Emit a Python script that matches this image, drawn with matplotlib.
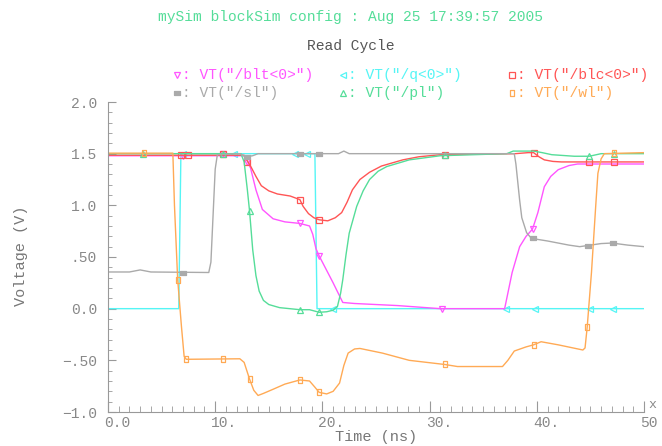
import numpy as np
import matplotlib.pyplot as plt
from matplotlib.lines import Line2D
from matplotlib.path import Path
import matplotlib.transforms as mtransforms

# waveforms, time in ns, voltage in V
blt_t = [0, 12.7, 13.0, 13.3, 13.8, 14.4, 15.4, 16.5, 17.9, 18.8, 19.1, 19.4, 19.7, 21.0, 21.9,
         23.0, 27.0, 31.0, 37.0, 37.3, 37.7, 38.4, 39.0, 39.6, 40.1, 40.7, 41.3, 42.0, 43.0, 43.8, 50]
blt_v = [1.48, 1.48, 1.43, 1.36, 1.15, 0.96, 0.87, 0.84, 0.825, 0.80, 0.72, 0.58, 0.51, 0.25, 0.06,
         0.05, 0.03, 0.0, 0.0, 0.15, 0.35, 0.60, 0.70, 0.77, 0.93, 1.18, 1.28, 1.345, 1.385, 1.40, 1.40]

q_t = [0, 6.6, 6.8, 19.3, 19.5, 50]
q_v = [0.0, 0.0, 1.5, 1.5, 0.0, 0.0]

blc_t = [0, 12.7, 13.0, 13.3, 13.8, 14.3, 15.0, 15.8, 17.0, 17.9, 18.2, 18.7, 19.2, 19.7, 20.5,
         21.2, 21.8, 22.3, 22.8, 23.5, 24.4, 25.5, 27.5, 29.0, 31.0, 38.0, 39.2, 39.7, 40.2, 40.7,
         41.5, 42.3, 50]
blc_v = [1.485, 1.485, 1.43, 1.38, 1.28, 1.19, 1.14, 1.11, 1.09, 1.055, 0.99, 0.92, 0.88, 0.86, 0.85,
         0.88, 0.93, 1.03, 1.15, 1.25, 1.32, 1.38, 1.44, 1.47, 1.49, 1.5, 1.51, 1.51, 1.47, 1.44,
         1.425, 1.42, 1.42]

sl_t = [0, 2.0, 3.0, 4.0, 9.4, 9.6, 9.8, 10.0, 10.2, 12.3, 12.8, 13.5, 14.0, 21.5, 22.0, 22.5,
        37.9, 38.05, 38.2, 38.4, 38.6, 39.05, 39.5, 41.0, 43.0, 44.0, 45.0, 46.0, 47.0, 48.5, 50]
sl_v = [0.355, 0.355, 0.375, 0.355, 0.35, 0.45, 0.9, 1.35, 1.49, 1.5, 1.47, 1.48, 1.5, 1.5, 1.525, 1.5,
        1.5, 1.40, 1.25, 1.05, 0.88, 0.735, 0.68, 0.655, 0.615, 0.60, 0.615, 0.63, 0.635, 0.615, 0.60]

pl_t = [0, 12.4, 12.7, 13.0, 13.2, 13.5, 13.8, 14.1, 14.5, 15.0, 16.0, 17.9, 18.8, 19.7, 20.4,
        21.0, 21.4, 21.7, 21.9, 22.2, 22.5, 23.2, 23.8, 24.4, 25.2, 26.0, 28.1, 31.0, 37.2, 37.8,
        39.7, 40.5, 41.4, 43.5, 44.9, 46.0, 50]
pl_v = [1.5, 1.5, 1.42, 1.15, 0.95, 0.57, 0.32, 0.17, 0.08, 0.04, 0.01, -0.01, -0.01, -0.035, -0.03,
        -0.015, 0.02, 0.15, 0.28, 0.52, 0.73, 0.99, 1.14, 1.25, 1.33, 1.375, 1.44, 1.48, 1.5, 1.525,
        1.525, 1.51, 1.49, 1.475, 1.475, 1.5, 1.5]

wl_t = [0, 6.05, 6.2, 6.5, 6.85, 7.1, 7.3, 12.3, 12.7, 13.2, 13.6, 14.0, 14.5, 15.4, 16.5, 17.9,
        18.8, 19.3, 19.7, 20.4, 21.0, 21.6, 22.0, 22.4, 23.0, 23.5, 25.6, 28.1, 31.4, 32.6, 36.8,
        37.3, 37.9, 39.0, 39.7, 40.4, 42.0, 44.3, 44.5, 44.7, 45.1, 45.5, 45.7, 46.0, 46.3, 50]
wl_v = [1.505, 1.505, 1.0, 0.28, -0.17, -0.46, -0.49, -0.485, -0.52, -0.68, -0.79, -0.84, -0.82, -0.78,
        -0.73, -0.69, -0.70, -0.76, -0.81, -0.825, -0.80, -0.72, -0.55, -0.43, -0.39, -0.385, -0.43,
        -0.50, -0.54, -0.56, -0.56, -0.50, -0.41, -0.37, -0.35, -0.32, -0.35, -0.40, -0.38, -0.18,
        0.35, 1.0, 1.31, 1.45, 1.5, 1.51]

# marker positions
blt_mt = [7.0, 10.7, 13.0, 17.9, 19.7, 31.2, 39.6]
blt_mv = [1.48, 1.5, 1.42, 0.825, 0.51, 0.0, 0.77]
q_mt = [7.0, 11.8, 17.4, 18.6, 21.0, 37.1, 39.8, 45.0, 47.1]
q_mv = [1.5, 1.5, 1.5, 1.5, 0.0, 0.0, 0.0, 0.0, 0.0]
blc_mt = [6.8, 7.5, 10.7, 13.0, 17.9, 19.7, 31.4, 39.7, 44.9, 47.2]
blc_mv = [1.485, 1.485, 1.5, 1.42, 1.055, 0.86, 1.49, 1.51, 1.42, 1.42]
sl_mt = [7.0, 13.0, 17.9, 19.7, 39.6, 44.8, 47.1]
sl_mv = [0.345, 1.47, 1.5, 1.5, 0.68, 0.605, 0.635]
pl_mt = [3.3, 10.7, 13.2, 17.9, 19.7, 31.4, 44.9, 47.2]
pl_mv = [1.5, 1.5, 0.95, -0.01, -0.035, 1.49, 1.475, 1.5]
wl_mt = [3.4, 6.5, 7.3, 10.7, 13.2, 17.9, 19.7, 31.4, 39.7, 44.7, 47.2]
wl_mv = [1.505, 0.28, -0.49, -0.49, -0.68, -0.69, -0.81, -0.54, -0.35, -0.18, 1.51]

x_ticks = [0, 10, 20, 30, 40, 50]
x_labels = ["0.0", "10.", "20.", "30.", "40.", "50"]
y_ticks = [-1.0, -0.5, 0.0, 0.5, 1.0, 1.5, 2.0]
y_labels = ["\u22121.0", "\u2212.50", "0.0", ".50", "1.0", "1.5", "2.0"]

MAGENTA = "#ff55ff"
CYAN = "#55f5f5"
RED = "#ff5555"
GRAY = "#aaaaaa"
GREEN = "#55dd99"
ORANGE = "#ffaa55"
AXC = "#999999"

hrect = Path([(-1, -0.45), (1, -0.45), (1, 0.45), (-1, 0.45), (-1, -0.45)])
vrect = Path([(-0.45, -1), (0.45, -1), (0.45, 1), (-0.45, 1), (-0.45, -1)])

plt.rcParams['font.family'] = ['Liberation Mono', 'DejaVu Sans Mono']

fig = plt.figure(figsize=(6.62, 4.46), dpi=100)
ax = fig.add_axes([108 / 662, 34 / 446, 536 / 662, 310 / 446])

series = [
    (q_t, q_v, q_mt, q_mv, CYAN, "<", False),
    (blt_t, blt_v, blt_mt, blt_mv, MAGENTA, "v", False),
    (blc_t, blc_v, blc_mt, blc_mv, RED, "s", False),
    (pl_t, pl_v, pl_mt, pl_mv, GREEN, "^", False),
    (sl_t, sl_v, sl_mt, sl_mv, GRAY, hrect, True),
    (wl_t, wl_v, wl_mt, wl_mv, ORANGE, vrect, False),
]
for t, v, mt, mv, c, m, filled in series:
    ax.plot(t, v, color=c, lw=1.0)
    ax.plot(mt, mv, ls="none", marker=m, ms=5, mec=c, mew=0.9,
            mfc=c if filled else "none")

ax.set_xlim(0, 50)
ax.set_ylim(-1, 2)
for s in ["top", "right"]:
    ax.spines[s].set_visible(False)
for s in ["left", "bottom"]:
    ax.spines[s].set_color(AXC)
    ax.spines[s].set_linewidth(0.8)

ax.set_xticks(x_ticks)
ax.set_xticklabels(x_labels)
ax.set_xticks(np.arange(0, 51, 1), minor=True)
ax.set_yticks(y_ticks)
ax.set_yticklabels(y_labels)
ax.set_yticks(np.arange(-1.0, 2.01, 0.1), minor=True)
ax.tick_params(which="both", direction="in", color=AXC, labelcolor="#888888", labelsize=10.5)
ax.tick_params(axis="x", which="major", length=8, width=0.8, pad=3)
ax.tick_params(axis="x", which="minor", length=4, width=0.6)
ax.tick_params(axis="y", which="major", length=6, width=0.8, pad=8)
ax.tick_params(axis="y", which="minor", length=3, width=0.6)
off = mtransforms.ScaledTranslation(-4 / 100, 0, fig.dpi_scale_trans)
for lab in ax.get_xticklabels():
    lab.set_horizontalalignment("left")
    lab.set_transform(lab.get_transform() + off)

ax.text(1.008, 0.004, "x", transform=ax.transAxes, color="#888888", fontsize=9.5,
        ha="left", va="bottom")

fig.text(376 / 662, 1 - 437 / 446, "Time (ns)", color="#777777", fontsize=11,
         ha="center", va="center")
fig.text(21 / 662, 1 - 256 / 446, "Voltage (V)", color="#777777", fontsize=11,
         ha="center", va="center", rotation=90)

fig.text(350 / 662, 1 - 17 / 446, "mySim blockSim config : Aug 25 17:39:57 2005",
         color=GREEN, fontsize=10.5, ha="center", va="center")
fig.text(351 / 662, 1 - 46 / 446, "Read Cycle", color="#555555", fontsize=10.5,
         ha="center", va="center")

legend = [
    (177, 75, "v", MAGENTA, 'VT("/blt<0>")', False),
    (343, 75, "<", CYAN, 'VT("/q<0>")', False),
    (512, 75, "s", RED, 'VT("/blc<0>")', False),
    (177, 93, hrect, GRAY, 'VT("/sl")', True),
    (343, 93, "^", GREEN, 'VT("/pl")', False),
    (512, 93, vrect, ORANGE, 'VT("/wl")', False),
]
for px, py, m, c, name, filled in legend:
    fx, fy = px / 662, 1 - py / 446
    fig.add_artist(Line2D([fx], [fy], transform=fig.transFigure, marker=m, ms=5,
                          mec=c, mew=0.9, mfc=c if filled else "none", ls="none"))
    fig.text(fx + 5 / 662, fy, ": " + name, color=c, fontsize=10.5, ha="left", va="center")

fig.savefig("out.png", dpi=100)
